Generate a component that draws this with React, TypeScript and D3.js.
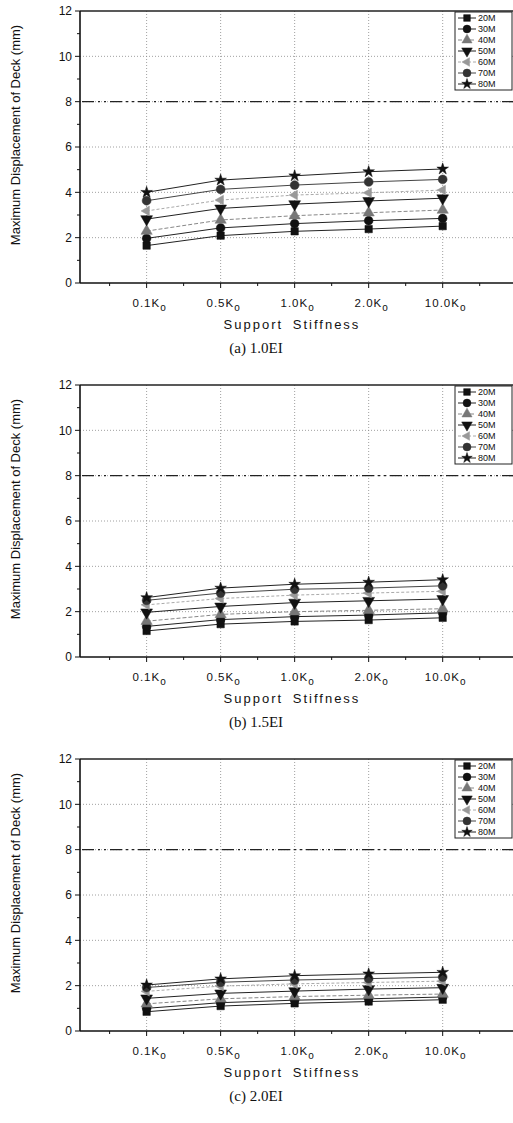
import React from 'react';
import * as d3 from 'd3';

const categories = ['0.1', '0.5', '1.0', '2.0', '10.0'];
const seriesNames = ['20M', '30M', '40M', '50M', '60M', '70M', '80M'];
const yTicks = [0, 2, 4, 6, 8, 10, 12];
const limitValue = 8;
const panelCaptions = ['(a)  1.0EI', '(b)  1.5EI', '(c)  2.0EI'];

// rows: 20M..80M, columns: categories
const values10EI = [
  [1.65, 2.09, 2.28, 2.38, 2.51],
  [1.97, 2.43, 2.62, 2.75, 2.85],
  [2.29, 2.78, 2.97, 3.10, 3.22],
  [2.82, 3.29, 3.48, 3.62, 3.74],
  [3.18, 3.66, 3.88, 3.98, 4.10],
  [3.63, 4.13, 4.32, 4.46, 4.57],
  [4.00, 4.54, 4.73, 4.91, 5.03],
];
const values15EI = [
  [1.15, 1.45, 1.57, 1.63, 1.73],
  [1.35, 1.65, 1.78, 1.85, 1.95],
  [1.58, 1.88, 2.00, 2.06, 2.13],
  [1.97, 2.23, 2.40, 2.48, 2.56],
  [2.30, 2.58, 2.73, 2.82, 2.90],
  [2.50, 2.82, 2.99, 3.04, 3.14],
  [2.62, 3.04, 3.21, 3.30, 3.41],
];
const values20EI = [
  [0.85, 1.10, 1.22, 1.30, 1.38],
  [1.00, 1.25, 1.36, 1.42, 1.50],
  [1.20, 1.42, 1.52, 1.58, 1.63],
  [1.44, 1.66, 1.76, 1.85, 1.91],
  [1.75, 1.98, 2.08, 2.14, 2.20],
  [1.92, 2.15, 2.25, 2.31, 2.38],
  [2.03, 2.30, 2.44, 2.52, 2.59],
];
const panelValues = [values10EI, values15EI, values20EI];

const W = 513;
const H = 1123;
const LEFT = 80;
const RIGHT = 513;
const PANEL_H = 272;
const PANEL_TOPS = [11, 385, 759];

const seriesStyle = [
  { symbol: 'square', fill: '#111', line: '#222', dash: '' },
  { symbol: 'circle', fill: '#111', line: '#222', dash: '' },
  { symbol: 'triUp', fill: '#777', line: '#888', dash: '4,2' },
  { symbol: 'triDown', fill: '#111', line: '#222', dash: '' },
  { symbol: 'triLeft', fill: '#999', line: '#aaa', dash: '3,2' },
  { symbol: 'octagon', fill: '#333', line: '#444', dash: '' },
  { symbol: 'star', fill: '#111', line: '#222', dash: '' },
];

function symbolPath(kind: string, s: number): string {
  switch (kind) {
    case 'square':
      return d3.symbol(d3.symbolSquare, s * s * 0.55)() as string;
    case 'circle':
      return d3.symbol(d3.symbolCircle, s * s * 0.6)() as string;
    case 'triUp':
      return d3.symbol(d3.symbolTriangle, s * s * 0.55)() as string;
    case 'triDown':
      return d3.symbol(d3.symbolTriangle, s * s * 0.6)() as string;
    case 'triLeft':
      return d3.symbol(d3.symbolTriangle, s * s * 0.4)() as string;
    case 'octagon':
      return d3.symbol(d3.symbolCircle, s * s * 0.62)() as string;
    case 'star':
      return d3.symbol(d3.symbolStar, s * s * 0.42)() as string;
    default:
      return '';
  }
}
function symbolRotate(kind: string): number {
  if (kind === 'triDown') return 180;
  if (kind === 'triLeft') return -90;
  return 0;
}

const xScale = d3.scaleLinear().domain([0.1, 5.95]).range([LEFT, RIGHT]);
const xMinor = [0.5, 1.5, 2.5, 3.5, 4.5, 5.5];
const yMinor = [1, 3, 5, 7, 9, 11];
const sans = 'Arial, "Liberation Sans", Helvetica, sans-serif';
const serif = '"Times New Roman", "Liberation Serif", serif';

function Panel({ idx }: { idx: number }) {
  const top = PANEL_TOPS[idx];
  const y = d3.scaleLinear().domain([0, 12]).range([top + PANEL_H, top]);
  const values = panelValues[idx];
  const line = d3
    .line<number>()
    .x((_, i) => xScale(i + 1))
    .y((v) => y(v));
  const bottom = y(0);
  return (
    <g>
      {yTicks
        .filter((t) => t > 0 && t < 12)
        .map((t) => (
          <line key={'gy' + t} x1={LEFT} x2={RIGHT} y1={y(t)} y2={y(t)} stroke="#888" strokeWidth={0.8} strokeDasharray="1,2" />
        ))}
      {categories.map((c, i) => (
        <line key={'gx' + c} x1={xScale(i + 1)} x2={xScale(i + 1)} y1={top} y2={bottom} stroke="#888" strokeWidth={0.8} strokeDasharray="1,2" />
      ))}
      <line x1={LEFT + 2} x2={RIGHT} y1={y(limitValue)} y2={y(limitValue)} stroke="#222" strokeWidth={1.4} strokeDasharray="12,4,2,4,2,4" />
      <line x1={LEFT} x2={RIGHT} y1={top} y2={top} stroke="#222" strokeWidth={1.3} />
      <line x1={LEFT} x2={LEFT} y1={top} y2={bottom} stroke="#111" strokeWidth={1.6} />
      <line x1={LEFT} x2={RIGHT} y1={bottom} y2={bottom} stroke="#111" strokeWidth={1.6} />
      {yTicks.map((t) => (
        <g key={'yt' + t}>
          <line x1={LEFT - 5} x2={LEFT} y1={y(t)} y2={y(t)} stroke="#111" strokeWidth={1} />
          <text x={LEFT - 8} y={y(t)} dy="0.35em" textAnchor="end" fontFamily={sans} fontSize={12} fill="#111">
            {t}
          </text>
        </g>
      ))}
      {yMinor.map((t) => (
        <line key={'ym' + t} x1={LEFT - 3} x2={LEFT} y1={y(t)} y2={y(t)} stroke="#111" strokeWidth={1} />
      ))}
      {categories.map((c, i) => (
        <g key={'xt' + c}>
          <line x1={xScale(i + 1)} x2={xScale(i + 1)} y1={bottom} y2={bottom + 5} stroke="#111" strokeWidth={1} />
          <text x={xScale(i + 1) + 3} y={bottom + 24} textAnchor="middle" fontFamily={sans} fontSize={11.5} letterSpacing={1} fill="#111">
            {c + 'K'}
            <tspan dy={4} fontSize={10}>o</tspan>
          </text>
        </g>
      ))}
      {xMinor.map((t) => (
        <line key={'xm' + t} x1={xScale(t)} x2={xScale(t)} y1={bottom} y2={bottom + 3} stroke="#111" strokeWidth={1} />
      ))}
      {values.map((vals, si) => (
        <path key={'l' + si} d={line(vals) as string} fill="none" stroke={seriesStyle[si].line} strokeWidth={1} strokeDasharray={seriesStyle[si].dash} />
      ))}
      {values.map((vals, si) =>
        vals.map((v, i) => (
          <path
            key={'m' + si + '-' + i}
            d={symbolPath(seriesStyle[si].symbol, 10)}
            transform={`translate(${xScale(i + 1)},${y(v)}) rotate(${symbolRotate(seriesStyle[si].symbol)})`}
            fill={seriesStyle[si].fill}
            stroke={seriesStyle[si].fill}
            strokeWidth={0.5}
          />
        ))
      )}
      <rect x={455} y={top + 1} width={57} height={78} fill="white" stroke="#222" strokeWidth={1} />
      {seriesNames.map((n, si) => {
        const ly = top + 7 + si * 11;
        const st = seriesStyle[si];
        return (
          <g key={'lg' + n}>
            <line x1={458} x2={476} y1={ly} y2={ly} stroke={st.line} strokeWidth={1} strokeDasharray={st.dash} />
            <path d={symbolPath(st.symbol, 9)} transform={`translate(467,${ly}) rotate(${symbolRotate(st.symbol)})`} fill={st.fill} stroke={st.fill} strokeWidth={0.5} />
            <text x={478} y={ly} dy="0.35em" fontFamily={sans} fontSize={9} fill="#111">
              {n}
            </text>
          </g>
        );
      })}
      <text
        transform={`translate(20,${top + PANEL_H / 2 - 12}) rotate(-90)`}
        textAnchor="middle"
        fontFamily={sans}
        fontSize={13}
        fill="#111"
      >
        Maximum Displacement of Deck (mm)
      </text>
      <text x={292} y={bottom + 46} textAnchor="middle" fontFamily={sans} fontSize={13} letterSpacing={2} wordSpacing={4} fill="#111">
        Support Stiffness
      </text>
      <text x={256} y={bottom + 70} textAnchor="middle" fontFamily={serif} fontSize={15} fill="#111">
        {panelCaptions[idx]}
      </text>
    </g>
  );
}

export default function App() {
  return (
    <svg width={W} height={H} style={{ position: 'absolute', left: 0, top: 0, background: 'white' }}>
      <rect width={W} height={H} fill="white" />
      {[0, 1, 2].map((i) => (
        <Panel key={i} idx={i} />
      ))}
    </svg>
  );
}
